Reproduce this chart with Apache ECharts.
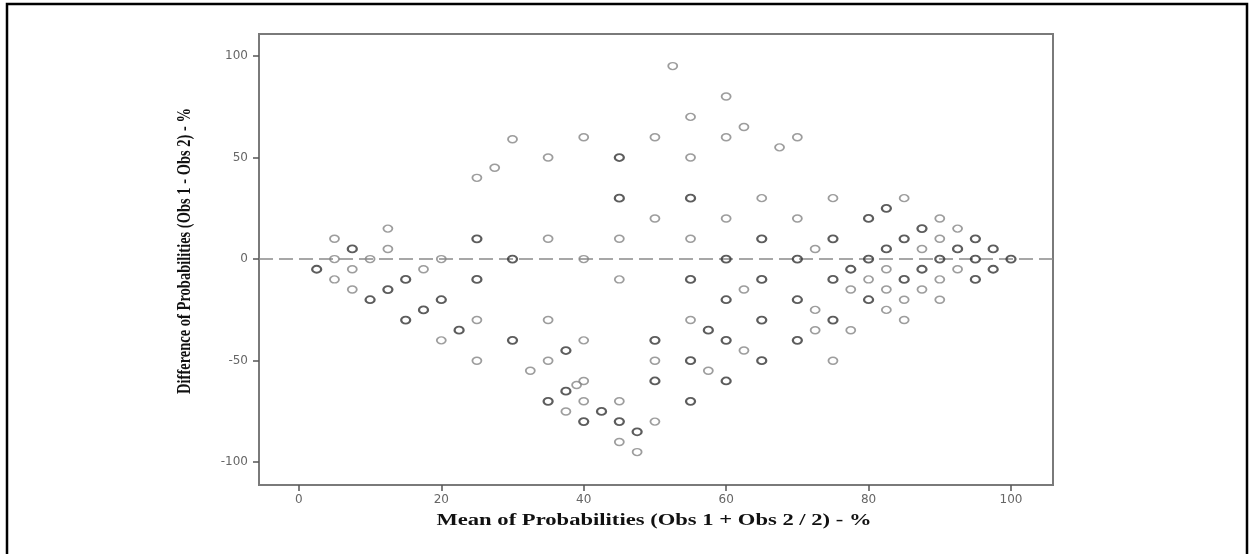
<!DOCTYPE html>
<html>
<head>
<meta charset="utf-8">
<script src="https://cdn.jsdelivr.net/npm/echarts@6/dist/echarts.min.js"></script>
<style>
html,body{margin:0;padding:0;background:#fff;}
#chart{width:1249px;height:554px;}
</style>
</head>
<body>
<div id="chart"></div>
<script>
// Mean of probabilities (x, %) and difference (y, %)
// single observations (lighter circles)
const singlePoints = [
  [5,10],[5,0],[5,-10],
  [7.5,-5],[7.5,-15],
  [10,0],
  [12.5,15],[12.5,5],
  [17.5,-5],
  [20,0],[20,-40],
  [25,40],[25,-30],[25,-50],
  [27.5,45],
  [30,59],
  [32.5,-55],
  [35,50],[35,10],[35,-30],[35,-50],
  [37.5,-75],
  [39,-62],
  [40,60],[40,0],[40,-40],[40,-60],[40,-70],
  [45,10],[45,-10],[45,-70],[45,-90],
  [47.5,-95],
  [50,60],[50,20],[50,-50],[50,-80],
  [52.5,95],
  [55,70],[55,50],[55,10],[55,-30],
  [57.5,-55],
  [60,80],[60,60],[60,20],
  [62.5,65],[62.5,-15],[62.5,-45],
  [65,30],
  [67.5,55],
  [70,60],[70,20],
  [72.5,5],[72.5,-25],[72.5,-35],
  [75,30],[75,-50],
  [77.5,-15],[77.5,-35],
  [80,-10],
  [82.5,-5],[82.5,-15],[82.5,-25],
  [85,30],[85,-20],[85,-30],
  [87.5,5],[87.5,-15],
  [90,20],[90,10],[90,-10],[90,-20],
  [92.5,15],[92.5,-5]
];
// overlapping observations (darker circles)
const multiPoints = [
  [2.5,-5],
  [7.5,5],
  [10,-20],
  [12.5,-15],
  [15,-10],[15,-30],
  [17.5,-25],
  [20,-20],
  [22.5,-35],
  [25,10],[25,-10],
  [30,0],[30,-40],
  [35,-70],
  [37.5,-45],[37.5,-65],
  [40,-80],
  [42.5,-75],
  [45,50],[45,30],[45,-80],
  [47.5,-85],
  [50,-40],[50,-60],
  [55,30],[55,-10],[55,-50],[55,-70],
  [57.5,-35],
  [60,0],[60,-20],[60,-40],[60,-60],
  [65,10],[65,-10],[65,-30],[65,-50],
  [70,0],[70,-20],[70,-40],
  [75,10],[75,-10],[75,-30],
  [77.5,-5],
  [80,20],[80,0],[80,-20],
  [82.5,25],[82.5,5],
  [85,10],[85,-10],
  [87.5,15],[87.5,-5],
  [90,0],
  [92.5,5],
  [95,10],[95,0],[95,-10],
  [97.5,5],[97.5,-5],
  [100,0]
];
const xTicks = [0,20,40,60,80,100];
const yTicks = [-100,-50,0,50,100];
const referenceLine = 0;
const xTitle = 'Mean of Probabilities (Obs 1 + Obs 2 / 2) - %';
const yTitle = 'Difference of Probabilities (Obs 1 - Obs 2) - %';

const chart = echarts.init(document.getElementById('chart'), null, {renderer:'canvas'});
const labelStyle = {color:'#666', fontSize:12, fontFamily:'DejaVu Sans'};
const axisLineStyle = {show:true, onZero:false, lineStyle:{color:'#7a7a7a', width:2}};
chart.setOption({
  animation:false,
  backgroundColor:'#fff',
  grid:{left:259, top:34, width:794, height:451, show:true, borderColor:'#7a7a7a', borderWidth:2, backgroundColor:'transparent'},
  xAxis:{
    type:'value', min:-5.6, max:105.9,
    axisLine:axisLineStyle,
    axisTick:{show:true, length:6, customValues:xTicks, lineStyle:{color:'#555', width:1.5}},
    axisLabel:Object.assign({customValues:xTicks, margin:9}, labelStyle),
    splitLine:{show:false}
  },
  yAxis:{
    type:'value', min:-111.2, max:110.8,
    axisLine:axisLineStyle,
    axisTick:{show:true, length:6, customValues:yTicks, lineStyle:{color:'#555', width:1.5}},
    axisLabel:Object.assign({customValues:yTicks, margin:11}, labelStyle),
    splitLine:{show:false}
  },
  graphic:[
    {type:'rect', shape:{x:7, y:4, width:1240, height:560}, style:{fill:'none', stroke:'#000', lineWidth:2.5}, silent:true, z:100},
    {type:'text', x:654, y:521, scaleX:1.33, silent:true,
     style:{text:xTitle, fontFamily:'Liberation Serif', fontWeight:'bold', fontSize:17, fill:'#111', align:'center', verticalAlign:'middle'}},
    {type:'text', x:185, y:251, rotation:Math.PI/2, scaleY:1.3, silent:true,
     style:{text:yTitle, fontFamily:'Liberation Serif', fontWeight:'bold', fontSize:14.5, fill:'#111', align:'center', verticalAlign:'middle'}}
  ],
  series:[
    {
      type:'scatter', data:singlePoints, symbol:'circle', symbolSize:[9,7], z:3,
      itemStyle:{color:'rgba(255,255,255,0)', borderColor:'#858585', borderWidth:1.6},
      markLine:{
        silent:true, symbol:'none', label:{show:false},
        lineStyle:{color:'#8a8a8a', width:1.5, type:[14,6]},
        data:[{yAxis:referenceLine}], z:1
      }
    },
    {
      type:'scatter', data:multiPoints, symbol:'circle', symbolSize:[9,7], z:4,
      itemStyle:{color:'rgba(255,255,255,0)', borderColor:'#333', borderWidth:2}
    }
  ]
});
</script>
</body>
</html>
